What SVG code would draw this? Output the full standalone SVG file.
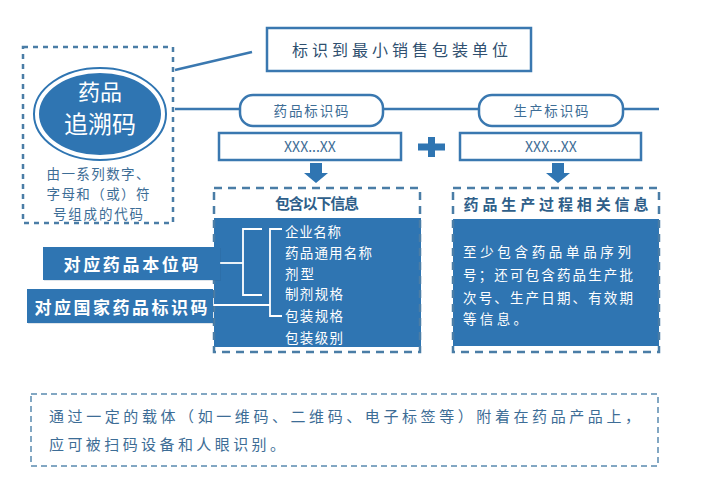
<svg xmlns="http://www.w3.org/2000/svg" width="702" height="483" viewBox="0 0 702 483">
<defs>
<style>
text{font-family:"Noto Sans CJK SC","Noto Sans",sans-serif;dominant-baseline:central}
.dash{fill:none;stroke:#4a7da6;stroke-width:2.5;stroke-dasharray:8 6}
.box{fill:#fff;stroke:#3a78b0;stroke-width:2.5}
.blue{fill:#2f75b2}
.conn{stroke:#3a78b0;stroke-width:2.5;fill:none}
.wl{stroke:#fff;stroke-width:1.8;fill:none}
.t1{fill:#3d6d96;font-size:13.5px}
.wt{fill:#fff;font-size:13.5px}
.hd{fill:#2f5f8a;font-size:15px;font-weight:bold}
.lb{fill:#fff;font-size:17px;font-weight:bold}
</style>
</defs>
<rect width="702" height="483" fill="#fff"/>
<g id="connectors">
<line class="conn" x1="175" y1="70" x2="252" y2="52"/>
<line class="conn" x1="175" y1="109" x2="240" y2="109"/>
<line class="conn" x1="383" y1="109" x2="479" y2="109"/>
<line class="conn" x1="623" y1="109" x2="659" y2="109"/>
</g>
<g id="trace-code">
<rect x="23" y="47" width="150" height="176" fill="none" stroke="#4a7da6" stroke-width="2.5" stroke-dasharray="5 5"/>
<ellipse cx="100" cy="114" rx="66" ry="46" fill="#fff" stroke="#2f75b2" stroke-width="2"/>
<ellipse cx="100" cy="114" rx="61" ry="41" class="blue"/>
<text x="100" y="90" fill="#fff" font-size="22" text-anchor="middle">药品</text>
<text x="100" y="122" fill="#fff" font-size="24" text-anchor="middle">追溯码</text>
<text class="t1" x="98" y="173" text-anchor="middle" textLength="103">由一系列数字、</text>
<text class="t1" x="98" y="193" text-anchor="middle" textLength="103">字母和（或）符</text>
<text class="t1" x="98" y="213" text-anchor="middle" textLength="90">号组成的代码</text>
</g>
<g id="min-unit">
<rect class="box" x="267" y="28" width="264" height="43"/>
<text x="400" y="49" fill="#2f4f6f" font-size="16" text-anchor="middle" textLength="216">标识到最小销售包装单位</text>
</g>
<g id="drug-id">
<rect class="box" x="240" y="95" width="143" height="31" rx="13"/>
<text class="t1" x="311" y="110" text-anchor="middle" textLength="75">药品标识码</text>
<rect class="box" x="219" y="133" width="182" height="27"/>
<text x="310" y="146" fill="#3d6d96" font-size="14" text-anchor="middle" font-family="Liberation Sans">XXX...XX</text>
<path class="blue" d="M310 163h12v10h6l-12 10l-12-10h6z"/>
</g>
<g id="plus">
<rect class="blue" x="418" y="143.5" width="27" height="7"/>
<rect class="blue" x="428" y="137" width="7" height="20"/>
</g>
<g id="prod-id">
<rect class="box" x="479" y="95" width="144" height="31" rx="13"/>
<text class="t1" x="551" y="110" text-anchor="middle" textLength="75">生产标识码</text>
<rect class="box" x="460" y="133" width="181" height="27"/>
<text x="551" y="146" fill="#3d6d96" font-size="14" text-anchor="middle" font-family="Liberation Sans">XXX...XX</text>
<path class="blue" d="M552 163h12v10h6l-12 10l-12-10h6z"/>
</g>
<g id="info-left">
<rect class="blue" x="214" y="218" width="207" height="129"/>
<rect class="dash" x="214" y="188" width="206" height="164"/>
<text class="hd" x="317" y="202" text-anchor="middle" textLength="84">包含以下信息</text>
<path class="wl" d="M262 229H243V295H262M282 229H270V316H282"/>
<text class="wt" x="285" y="231" textLength="56">企业名称</text>
<text class="wt" x="285" y="252" textLength="87">药品通用名称</text>
<text class="wt" x="285" y="273" textLength="29">剂型</text>
<text class="wt" x="285" y="293" textLength="58">制剂规格</text>
<text class="wt" x="285" y="315" textLength="58">包装规格</text>
<text class="wt" x="285" y="337" textLength="58">包装级别</text>
</g>
<g id="info-right">
<rect class="blue" x="453" y="219" width="206" height="127"/>
<rect class="dash" x="453" y="188" width="206" height="164"/>
<text class="hd" x="556" y="203" text-anchor="middle" textLength="185">药品生产过程相关信息</text>
<text class="wt" x="463" y="251" font-size="14.5" textLength="168">至少包含药品单品序列</text>
<text class="wt" x="463" y="274" font-size="14.5" textLength="170">号；还可包含药品生产批</text>
<text class="wt" x="463" y="297" font-size="14.5" textLength="170">次号、生产日期、有效期</text>
<text class="wt" x="463" y="318" font-size="14.5" textLength="64">等信息。</text>
</g>
<g id="connectors-bracket">
<line class="wl" x1="220" y1="263" x2="243" y2="263"/>
<line class="wl" x1="213" y1="305" x2="270" y2="305"/>
</g>
<g id="base-unit">
<rect x="44" y="248" width="177" height="33" fill="#1f4f7a" opacity="0.15"/>
<rect class="blue" x="43" y="247" width="177" height="33"/>
<text class="lb" x="131" y="263" text-anchor="middle" textLength="135">对应药品本位码</text>
</g>
<g id="national-code">
<rect x="28" y="290" width="186" height="34" fill="#1f4f7a" opacity="0.15"/>
<rect class="blue" x="27" y="289" width="186" height="34"/>
<text class="lb" x="121" y="306" text-anchor="middle" textLength="173">对应国家药品标识码</text>
</g>
<g id="note">
<rect x="31" y="394" width="627" height="72" fill="none" stroke="#5a8ab0" stroke-width="1.5" stroke-dasharray="6 4"/>
<text x="49" y="415" fill="#3d6d96" font-size="15" textLength="591">通过一定的载体（如一维码、二维码、电子标签等）附着在药品产品上，</text>
<text x="49" y="443" fill="#3d6d96" font-size="15" textLength="236">应可被扫码设备和人眼识别。</text>
</g>
</svg>
